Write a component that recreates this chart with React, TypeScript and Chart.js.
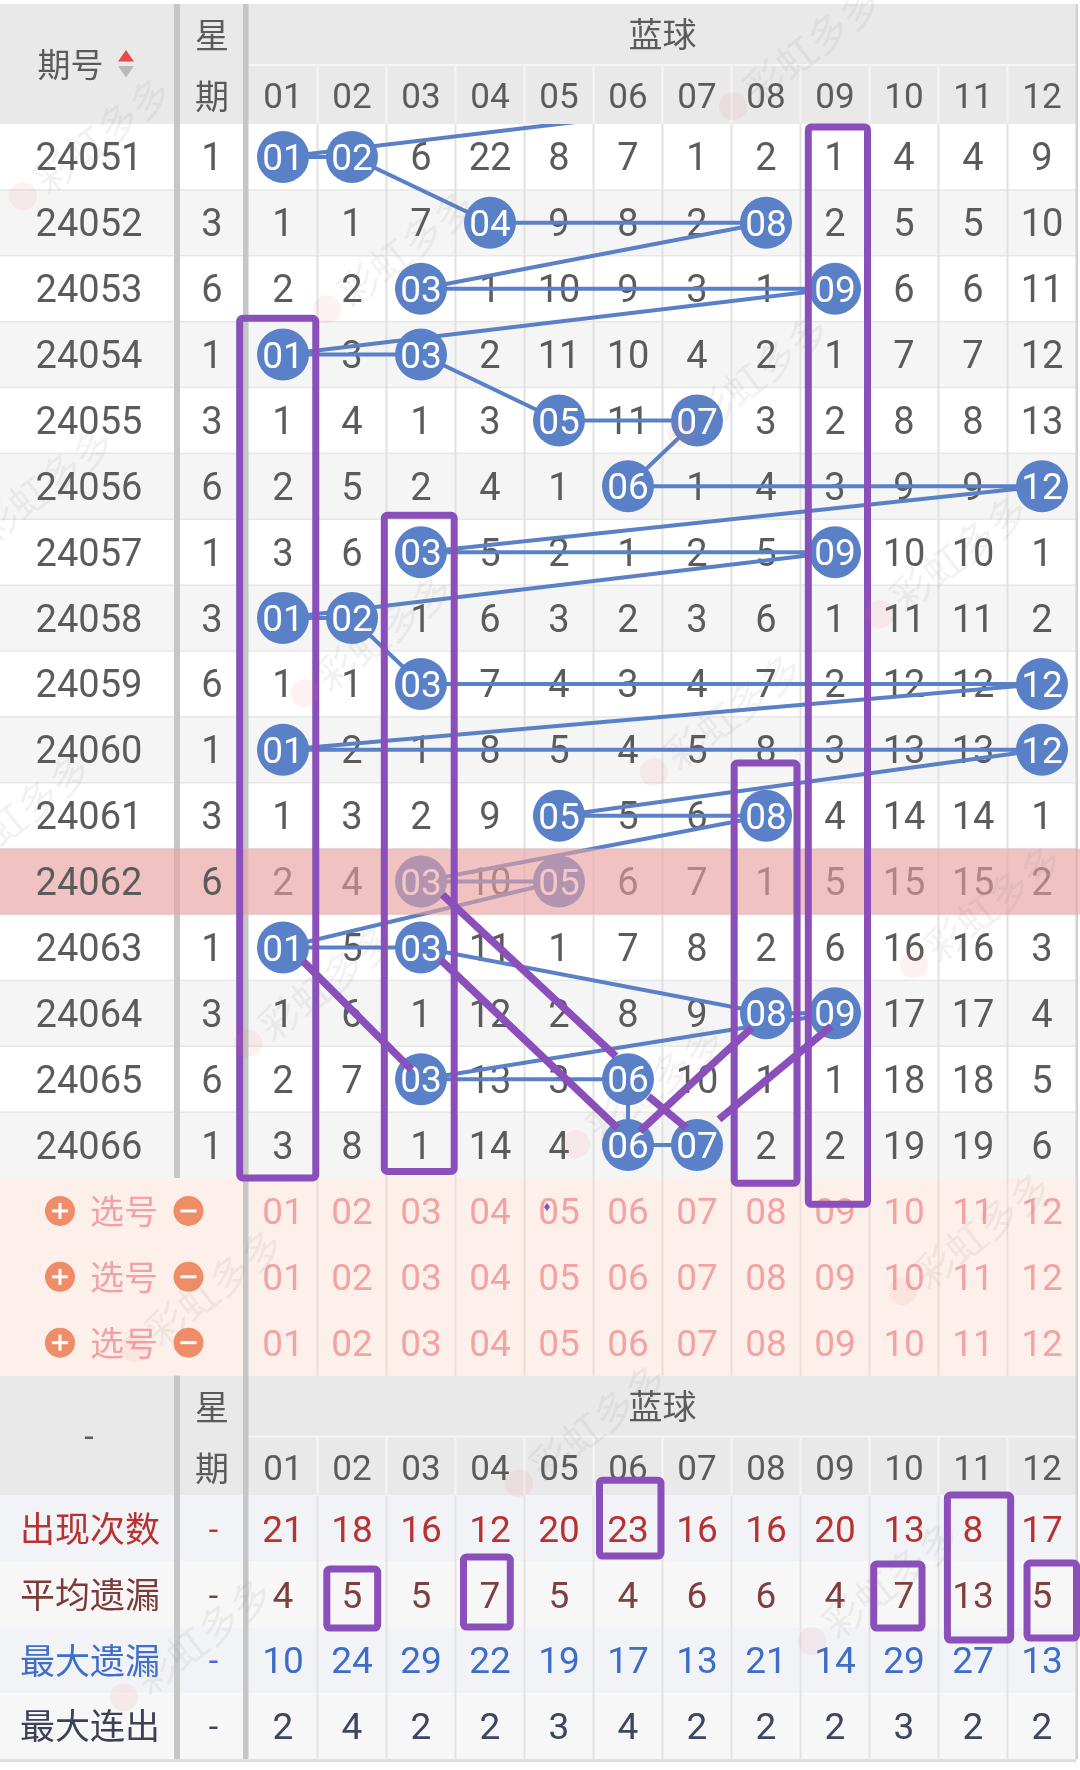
import React, { useEffect, useRef } from "react";
import { Chart, registerables } from "chart.js";

Chart.register(...registerables);

// ---------------- data ----------------
const issues = ["24051", "24052", "24053", "24054", "24055", "24056", "24057", "24058", "24059", "24060", "24061", "24062", "24063", "24064", "24065", "24066"];
const weekdays = [1, 3, 6, 1, 3, 6, 1, 3, 6, 1, 3, 6, 1, 3, 6, 1];
const blueNumbers = ["01", "02", "03", "04", "05", "06", "07", "08", "09", "10", "11", "12"];
// drawn blue balls of each issue
const blueDraws = [[1, 2], [4, 8], [3, 9], [1, 3], [5, 7], [6, 12], [3, 9], [1, 2], [3, 12], [1, 12], [5, 8], [3, 5], [1, 3], [8, 9], [3, 6], [6, 7]];
// draw of the issue before 24051 (only its link is visible)
const previousDraw = [7, 9];
// omission table (0 = drawn, shown as a ball)
const omissions = [
  [0, 0, 6, 22, 8, 7, 1, 2, 1, 4, 4, 9],
  [1, 1, 7, 0, 9, 8, 2, 0, 2, 5, 5, 10],
  [2, 2, 0, 1, 10, 9, 3, 1, 0, 6, 6, 11],
  [0, 3, 0, 2, 11, 10, 4, 2, 1, 7, 7, 12],
  [1, 4, 1, 3, 0, 11, 0, 3, 2, 8, 8, 13],
  [2, 5, 2, 4, 1, 0, 1, 4, 3, 9, 9, 0],
  [3, 6, 0, 5, 2, 1, 2, 5, 0, 10, 10, 1],
  [0, 0, 1, 6, 3, 2, 3, 6, 1, 11, 11, 2],
  [1, 1, 0, 7, 4, 3, 4, 7, 2, 12, 12, 0],
  [0, 2, 1, 8, 5, 4, 5, 8, 3, 13, 13, 0],
  [1, 3, 2, 9, 0, 5, 6, 0, 4, 14, 14, 1],
  [2, 4, 0, 10, 0, 6, 7, 1, 5, 15, 15, 2],
  [0, 5, 0, 11, 1, 7, 8, 2, 6, 16, 16, 3],
  [1, 6, 1, 12, 2, 8, 9, 0, 0, 17, 17, 4],
  [2, 7, 0, 13, 3, 0, 10, 1, 1, 18, 18, 5],
  [3, 8, 1, 14, 4, 0, 0, 2, 2, 19, 19, 6],
];
const highlightIssue = "24062";
const pickRows = 3;
const pickLabel = "选号";
const statLabels = ["出现次数", "平均遗漏", "最大遗漏", "最大连出"];
const appearCount = [21, 18, 16, 12, 20, 23, 16, 16, 20, 13, 8, 17];
const avgOmission = [4, 5, 5, 7, 5, 4, 6, 6, 4, 7, 13, 5];
const maxOmission = [10, 24, 29, 22, 19, 17, 13, 21, 14, 29, 27, 13];
const maxStreak = [2, 4, 2, 2, 3, 4, 2, 2, 2, 3, 2, 2];
const statValues = [appearCount, avgOmission, maxOmission, maxStreak];

// hand-drawn purple marks (column / row units of the grid)
const markBoxes = [
  { x0: 7.613, x1: 8.471, y0: -0.455, y1: 15.9 },
  { x0: -0.628, x1: 0.475, y0: 2.45, y1: 15.5 },
  { x0: 1.468, x1: 2.481, y0: 5.44, y1: 15.4 },
  { x0: 6.539, x1: 7.449, y0: 9.2, y1: 15.58 },
];
const markSegments = [
  [2.312, 11.2, 4.823, 13.65],
  [5.297, 14.26, 5.845, 14.74],
  [2.287, 12.19, 4.848, 14.74],
  [0.29, 12.21, 1.862, 13.855],
  [5.172, 14.79, 6.794, 13.22],
  [6.319, 14.61, 7.942, 13.2],
];
// boxes in the statistics block (column units / stat-row units)
const statBoxes = [
  { x0: 4.587, x1: 5.478, y0: -0.735, y1: 0.418 },
  { x0: 9.629, x1: 10.546, y0: -0.508, y1: 1.693 },
  { x0: 8.561, x1: 9.261, y0: 0.539, y1: 1.51 },
  { x0: 10.783, x1: 11.5, y0: 0.524, y1: 1.662 },
  { x0: 0.635, x1: 1.372, y0: 0.615, y1: 1.51 },
  { x0: 2.616, x1: 3.294, y0: 0.433, y1: 1.495 },
];

// ---------------- style ----------------
const NROW = issues.length;
const NCOL = blueNumbers.length;
const BLUE = "#5a81c7";
const PURPLE = "#8a4fba";
const TEXT = "#5b5b5b";
const HEADER_BG = "#e9e9e9";
const NUM_FONT = 'Roboto, "DejaVu Sans", sans-serif';
const CJK_FONT = '"Noto Sans CJK SC", "Noto Sans", sans-serif';
const HEAD_A = 61;
const HEAD_B = 59;
const ISSUE_X = 89;
const WEEK_X = 212;
const SEP1_L = 174;
const SEP1_W = 6;
const BALL_R = 26;
const statColors = [
  { label: "#b73232", value: "#b73333" },
  { label: "#7c3a3a", value: "#7f3f3f" },
  { label: "#3f6fca", value: "#3e6dc8" },
  { label: "#3b4257", value: "#3d4560" },
];
const watermarks = [
  [102, 135], [406, 248], [760, 372], [45, 485], [384, 632], [733, 711], [22, 812], [327, 982],
  [655, 1083], [993, 903], [959, 553], [214, 1287], [598, 1422], [982, 1230], [203, 1636], [891, 1580], [812, 45],
];

function geom(chart: any) {
  const xs = chart.scales.x;
  const ys = chart.scales.y;
  const px = (c: number) => xs.getPixelForValue(c);
  const py = (r: number) => ys.getPixelForValue(r);
  const rowH = py(1) - py(0);
  const gridL = px(-0.5);
  const gridR = px(NCOL - 0.5);
  const dataT = py(-0.5);
  const dataB = py(NROW - 0.5);
  const hdrT = dataT - HEAD_A - HEAD_B;
  const pickB = py(NROW + pickRows - 0.5);
  const footT = pickB;
  const footB = footT + HEAD_A + HEAD_B;
  const statsT = footB;
  const statsB = statsT + rowH * statLabels.length;
  const sy = (u: number) => statsT + rowH * (u + 0.5);
  return { px, py, rowH, gridL, gridR, dataT, dataB, hdrT, pickB, footT, footB, statsT, statsB, sy, W: chart.width };
}

function txt(ctx: any, s: string, x: number, y: number, size: number, color: string, cjk = false) {
  ctx.save();
  ctx.font = `${size}px ${cjk ? CJK_FONT : NUM_FONT}`;
  ctx.fillStyle = color;
  ctx.textAlign = "center";
  ctx.textBaseline = "alphabetic";
  ctx.fillText(s, x, y + size * (cjk ? 0.38 : 0.355));
  ctx.restore();
}

function headerBlock(ctx: any, g: any, top: number) {
  ctx.fillStyle = HEADER_BG;
  ctx.fillRect(0, top, g.gridR, HEAD_A + HEAD_B);
  ctx.fillStyle = "#f5f5f5";
  ctx.fillRect(g.gridL, top + HEAD_A - 1, g.gridR - g.gridL, 2);
  for (let c = 1; c < NCOL; c++) ctx.fillRect(g.px(c - 0.5) - 1, top + HEAD_A, 2, HEAD_B);
}

function headerTexts(ctx: any, g: any, top: number, footer: boolean) {
  if (!footer) {
    const cy = top + (HEAD_A + HEAD_B) / 2;
    txt(ctx, "期号", 70.5, cy, 33, TEXT, true);
    ctx.fillStyle = "#e84848";
    ctx.beginPath(); ctx.moveTo(118, cy - 2.5); ctx.lineTo(134, cy - 2.5); ctx.lineTo(126, cy - 14); ctx.closePath(); ctx.fill();
    ctx.fillStyle = "#b9b9b9";
    ctx.beginPath(); ctx.moveTo(118, cy + 2); ctx.lineTo(134, cy + 2); ctx.lineTo(126, cy + 13.5); ctx.closePath(); ctx.fill();
  } else {
    txt(ctx, "-", ISSUE_X, top + (HEAD_A + HEAD_B) / 2, 34, TEXT);
  }
  txt(ctx, "星", WEEK_X, top + HEAD_A / 2 + 1, 34, TEXT, true);
  txt(ctx, "期", WEEK_X, top + HEAD_A + HEAD_B / 2 + 2, 34, TEXT, true);
  txt(ctx, "蓝球", (g.gridL + g.gridR) / 2, top + HEAD_A / 2, 34, TEXT, true);
  for (let c = 0; c < NCOL; c++) txt(ctx, blueNumbers[c], g.px(c), top + HEAD_A + HEAD_B / 2 + 1, 35, TEXT);
}

function drawBase(chart: any) {
  const ctx = chart.ctx;
  const g = geom(chart);
  const hiRow = issues.indexOf(highlightIssue);
  ctx.save();
  ctx.fillStyle = "#ffffff";
  ctx.fillRect(0, 0, chart.width, chart.height);

  headerBlock(ctx, g, g.hdrT);

  for (let r = 0; r < NROW; r++) {
    ctx.fillStyle = r % 2 ? "#f5f5f5" : "#ffffff";
    ctx.fillRect(0, g.py(r - 0.5), g.gridR, g.rowH);
  }
  ctx.fillStyle = "#e7e7e7";
  for (let r = 1; r < NROW; r++) ctx.fillRect(0, g.py(r - 0.5) - 0.75, g.gridR, 1.5);
  ctx.fillStyle = "#e1e1e1";
  for (let c = 1; c < NCOL; c++) ctx.fillRect(g.px(c - 0.5) - 1, g.dataT, 2, g.dataB - g.dataT);

  // pick rows
  ctx.fillStyle = "#fdf0ea";
  ctx.fillRect(0, g.dataB, g.gridR, g.pickB - g.dataB);
  ctx.fillStyle = "#ecdcd5";
  for (let c = 1; c < NCOL; c++) ctx.fillRect(g.px(c - 0.5) - 1, g.dataB, 2, g.pickB - g.dataB);

  headerBlock(ctx, g, g.footT);

  // stats rows
  for (let k = 0; k < statLabels.length; k++) {
    ctx.fillStyle = k % 2 ? "#f7f7f8" : "#f2f3f7";
    ctx.fillRect(0, g.sy(k - 0.5), g.gridR, g.rowH);
  }
  ctx.fillStyle = "#e3e3e3";
  for (let c = 1; c < NCOL; c++) ctx.fillRect(g.px(c - 0.5) - 1, g.statsT, 2, g.statsB - g.statsT);

  // thick separators
  ctx.fillStyle = "#c6c6c6";
  ctx.fillRect(SEP1_L, g.hdrT, SEP1_W, g.dataB - g.hdrT);
  ctx.fillRect(SEP1_L, g.footT, SEP1_W, g.statsB - g.footT);
  ctx.fillRect(g.gridL - 5.5, g.hdrT, 5.5, g.statsB - g.hdrT);
  ctx.fillStyle = "#d2d2d2";
  ctx.fillRect(g.gridR - 1, g.hdrT, 2.5, g.statsB - g.hdrT);
  ctx.fillStyle = "#dddddd";
  ctx.fillRect(0, g.statsB, g.gridR, 3);

  // highlighted row, left part
  if (hiRow >= 0) {
    ctx.fillStyle = "rgba(236,160,160,0.6)";
    ctx.fillRect(0, g.py(hiRow - 0.5), g.gridL, g.rowH);
  }

  // texts
  headerTexts(ctx, g, g.hdrT, false);
  for (let r = 0; r < NROW; r++) {
    const y = g.py(r);
    txt(ctx, issues[r], ISSUE_X, y, 38, TEXT);
    txt(ctx, String(weekdays[r]), WEEK_X, y, 38, TEXT);
    for (let c = 0; c < NCOL; c++) {
      if (omissions[r][c] !== 0) txt(ctx, String(omissions[r][c]), g.px(c), y, 38, TEXT);
    }
  }
  for (let k = 0; k < pickRows; k++) {
    const y = g.py(NROW + k);
    ctx.fillStyle = "#ef8d69";
    ctx.beginPath(); ctx.arc(60, y, 15, 0, Math.PI * 2); ctx.fill();
    ctx.beginPath(); ctx.arc(188.5, y, 15, 0, Math.PI * 2); ctx.fill();
    ctx.fillStyle = "#ffffff";
    ctx.fillRect(52, y - 1.5, 16, 3);
    ctx.fillRect(58.5, y - 8, 3, 16);
    ctx.fillRect(180.5, y - 1.5, 16, 3);
    txt(ctx, pickLabel, 124, y, 34, "#f3a1a6", true);
    for (let c = 0; c < NCOL; c++) txt(ctx, blueNumbers[c], g.px(c), y, 37, "#f4a3a3");
  }
  headerTexts(ctx, g, g.footT, true);
  for (let k = 0; k < statLabels.length; k++) {
    const y = g.sy(k);
    txt(ctx, statLabels[k], 90, y, 35, statColors[k].label, true);
    txt(ctx, "-", 213.5, y, 34, statColors[k].value);
    for (let c = 0; c < NCOL; c++) txt(ctx, String(statValues[k][c]), g.px(c), y, 37, statColors[k].value);
  }
  ctx.restore();
}

function drawTop(chart: any) {
  const ctx = chart.ctx;
  const g = geom(chart);
  const hiRow = issues.indexOf(highlightIssue);
  ctx.save();
  // ball labels
  blueDraws.forEach((d, r) => d.forEach((n) => txt(ctx, blueNumbers[n - 1], g.px(n - 1), g.py(r), 37, "#ffffff")));
  // highlighted row overlay
  if (hiRow >= 0) {
    ctx.fillStyle = "rgba(236,160,160,0.6)";
    ctx.fillRect(g.gridL, g.py(hiRow - 0.5), g.W - g.gridL, g.rowH);
  }
  // purple marks
  ctx.strokeStyle = PURPLE;
  ctx.lineWidth = 7;
  ctx.lineJoin = "round";
  ctx.lineCap = "round";
  const rr = (x0: number, y0: number, x1: number, y1: number) => {
    const r = 3;
    ctx.beginPath();
    ctx.moveTo(x0 + r, y0);
    ctx.arcTo(x1, y0, x1, y1, r);
    ctx.arcTo(x1, y1, x0, y1, r);
    ctx.arcTo(x0, y1, x0, y0, r);
    ctx.arcTo(x0, y0, x1, y0, r);
    ctx.closePath();
    ctx.stroke();
  };
  markBoxes.forEach((b) => rr(g.px(b.x0), g.py(b.y0), g.px(b.x1), g.py(b.y1)));
  statBoxes.forEach((b) => rr(g.px(b.x0), g.sy(b.y0), g.px(b.x1), g.sy(b.y1)));
  ctx.lineWidth = 7.5;
  ctx.lineCap = "butt";
  markSegments.forEach((s) => {
    ctx.beginPath();
    ctx.moveTo(g.px(s[0]), g.py(s[1]));
    ctx.lineTo(g.px(s[2]), g.py(s[3]));
    ctx.stroke();
  });
  ctx.fillStyle = PURPLE;
  ctx.beginPath();
  const dx = g.px(3.826), dy = g.py(15.94);
  ctx.moveTo(dx, dy - 4); ctx.lineTo(dx + 3, dy); ctx.lineTo(dx, dy + 4); ctx.lineTo(dx - 3, dy); ctx.closePath(); ctx.fill();

  // watermarks
  watermarks.forEach(([wx, wy]) => {
    ctx.save();
    ctx.translate(wx, wy);
    ctx.rotate(-0.66);
    ctx.fillStyle = "rgba(235,120,120,0.10)";
    ctx.beginPath();
    ctx.arc(-100, 0, 14, 0, Math.PI * 2);
    ctx.fill();
    ctx.font = `40px ${CJK_FONT}`;
    ctx.textAlign = "center";
    ctx.textBaseline = "middle";
    ctx.fillStyle = "rgba(130,130,130,0.10)";
    ctx.fillText("彩虹多多", 0, 0);
    ctx.restore();
  });
  ctx.restore();
}

const tablePlugin = {
  id: "lotteryTable",
  beforeDatasetsDraw(chart: any) { drawBase(chart); },
  afterDatasetsDraw(chart: any) { drawTop(chart); },
};

export default function App() {
  const ref = useRef<HTMLCanvasElement | null>(null);
  useEffect(() => {
    const ballPoints = blueDraws.flatMap((d, r) => d.map((n) => ({ x: n - 1, y: r })));
    const chainPoints = [{ x: previousDraw[previousDraw.length - 1] - 1, y: -1 }, ...ballPoints];
    const chart = new Chart(ref.current as HTMLCanvasElement, {
      type: "scatter",
      data: {
        datasets: [
          {
            label: "balls",
            data: ballPoints,
            pointRadius: BALL_R,
            pointHoverRadius: BALL_R,
            pointBackgroundColor: BLUE,
            pointBorderWidth: 0,
            borderWidth: 0,
            order: 0,
            clip: false,
          } as any,
          {
            label: "chain",
            data: chainPoints,
            showLine: true,
            borderColor: BLUE,
            borderWidth: 4,
            pointRadius: 0,
            pointHoverRadius: 0,
            tension: 0,
            fill: false,
            order: 1,
            clip: 0,
          } as any,
        ],
      },
      options: {
        animation: false,
        responsive: false,
        devicePixelRatio: 1,
        events: [],
        layout: { autoPadding: false, padding: { left: 248.5, right: 3.5, top: 124, bottom: 592 } },
        scales: {
          x: { type: "linear", min: -0.5, max: NCOL - 0.5, display: false },
          y: { type: "linear", min: -0.5, max: NROW - 0.5, reverse: true, display: false },
        },
        plugins: { legend: { display: false }, tooltip: { enabled: false } },
      } as any,
      plugins: [tablePlugin],
    });
    let alive = true;
    const fonts: any = (document as any).fonts;
    if (fonts && fonts.load) {
      Promise.all([
        fonts.load(`38px Roboto`),
        fonts.load(`34px "Noto Sans CJK SC"`, "期号星蓝球选出现次数平均遗漏最大连彩虹多"),
      ]).then(() => { if (alive) chart.draw(); }).catch(() => {});
    }
    return () => { alive = false; chart.destroy(); };
  }, []);
  return (
    <div style={{ position: "absolute", left: 0, top: 0, width: 1080, height: 1770, background: "#ffffff" }}>
      <canvas ref={ref} width={1080} height={1770} style={{ display: "block", width: 1080, height: 1770 }} />
    </div>
  );
}
